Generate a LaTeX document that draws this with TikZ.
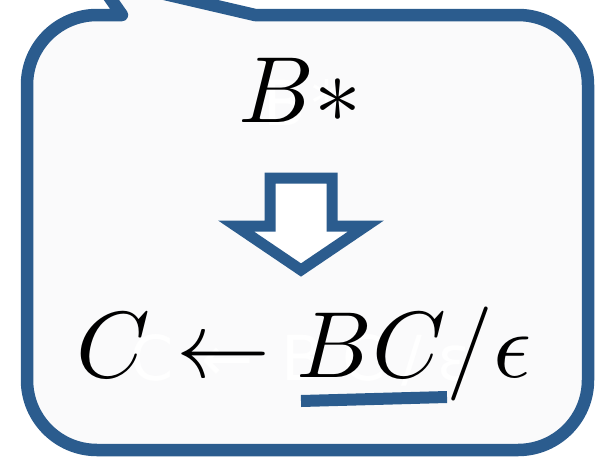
\documentclass[tikz,border=0pt]{standalone}
\usepackage{fontspec}
\newfontfamily\ghostfont{DejaVu Sans}
\usetikzlibrary{positioning}
\definecolor{bubbleblue}{RGB}{43,92,142}
\definecolor{bubblefill}{RGB}{250,250,251}

\begin{document}
\begin{tikzpicture}[x=1pt,y=-1pt,
  bigmath/.style={inner sep=0pt,anchor=base,scale=9.4},
  ghost/.style={inner sep=0pt,anchor=base,scale=6.2,white,font=\ghostfont}]
\useasboundingbox (0,0) rectangle (597,458);
\begin{scope}
\clip (0,0) rectangle (597,458);
\draw[bubbleblue,line width=12.5pt,fill=bubblefill,line join=round]
  (122,15) -- (96,-22) -- (255,15) -- (518,15)
  arc[start angle=270,end angle=360,radius=70] -- (588,380)
  arc[start angle=0,end angle=90,radius=70] -- (97,450)
  arc[start angle=90,end angle=180,radius=70] -- (27,85)
  arc[start angle=180,end angle=270,radius=70] -- cycle;
\end{scope}
\node[ghost] (ghosttop) at (303,125) {B\hspace{0.1em}*};
\node[ghost] (ghostrule) at (301,380)
  {C\hspace{0.45em}←\hspace{0.45em}B\hspace{0.3em}C\hspace{0.25em}/\hspace{0.25em}ε};
\node[bigmath] (top) at (300,122) {$B\ast$};
\node[bigmath] (rule) at (304,377) {$C\leftarrow BC/\epsilon$};
\draw[bubbleblue,line width=11pt,fill=white,line join=miter]
  (270,178) -- (332,178) -- (332,226) -- (366,226) -- (301,270)
  -- (236,226) -- (270,226) -- cycle;
\draw[bubbleblue,line width=12pt] (301,401) -- (447,397);
\end{tikzpicture}
\end{document}
